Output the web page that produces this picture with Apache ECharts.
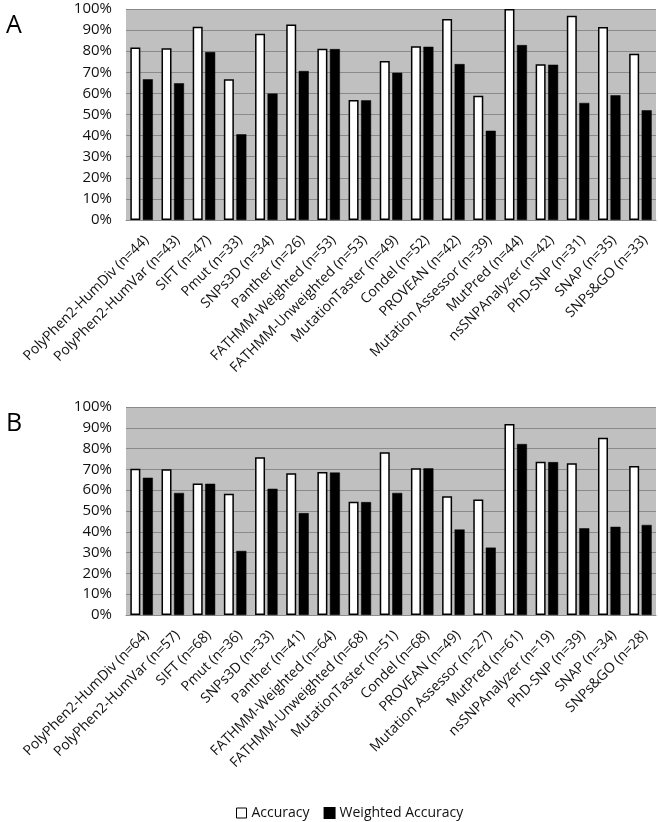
<!DOCTYPE html>
<html><head><meta charset="utf-8">
<script src="https://cdn.jsdelivr.net/npm/echarts@6/dist/echarts.min.js"></script>
<style>html,body{margin:0;padding:0;background:#fff}#c{width:658px;height:822px}</style>
</head><body><div id="c"></div>
<script>
const catsA = ["PolyPhen2-HumDiv (n=44)","PolyPhen2-HumVar (n=43)","SIFT (n=47)","Pmut (n=33)","SNPs3D (n=34)","Panther (n=26)","FATHMM-Weighted (n=53)","FATHMM-Unweighted (n=53)","MutationTaster (n=49)","Condel (n=52)","PROVEAN (n=42)","Mutation Assessor (n=39)","MutPred (n=44)","nsSNPAnalyzer (n=42)","PhD-SNP (n=31)","SNAP (n=35)","SNPs&GO (n=33)"];
const accA = [81.8,81.4,91.6,66.7,88.3,92.6,81.2,56.9,75.4,82.3,95.3,58.9,100,73.8,96.8,91.5,78.8];
const wAccA = [66.7,64.8,79.6,40.6,59.9,70.6,81.0,56.7,69.8,82.1,73.9,42.3,82.9,73.6,55.5,59.1,52.0];
const catsB = ["PolyPhen2-HumDiv (n=64)","PolyPhen2-HumVar (n=57)","SIFT (n=68)","Pmut (n=36)","SNPs3D (n=33)","Panther (n=41)","FATHMM-Weighted (n=64)","FATHMM-Unweighted (n=68)","MutationTaster (n=51)","Condel (n=68)","PROVEAN (n=49)","Mutation Assessor (n=27)","MutPred (n=61)","nsSNPAnalyzer (n=19)","PhD-SNP (n=39)","SNAP (n=34)","SNPs&GO (n=28)"];
const accB = [70.3,70.1,63.2,58.3,75.8,68.1,68.7,54.4,78.3,70.6,57.1,55.5,91.8,73.7,73.0,85.2,71.6];
const wAccB = [66.0,58.7,63.1,30.8,60.7,49.0,68.5,54.3,58.7,70.5,41.1,32.4,82.2,73.5,41.7,42.4,43.3];
const seriesNames = ["Accuracy","Weighted Accuracy"];

const FONT = "'Open Sans', 'Liberation Sans', sans-serif";
const chart = echarts.init(document.getElementById('c'), null, {renderer:'canvas'});
function xAx(cats, gi){
  return {type:'category', data:cats, gridIndex:gi,
    axisTick:{show:false},
    axisLine:{show:true, lineStyle:{color:'#8c8c8c', width:1}},
    axisLabel:{rotate:45, interval:0, margin:13, verticalAlign:'top', fontSize:14, color:'#111', fontFamily:FONT}};
}
function yAx(gi){
  return {type:'value', gridIndex:gi, min:0, max:100, interval:10,
    axisLine:{show:false}, axisTick:{show:false},
    axisLabel:{formatter:'{value}%', fontSize:15, color:'#111', fontFamily:FONT, margin:14},
    splitLine:{show:true, lineStyle:{color:'#8a8a8a', width:1}}};
}
function bars(name, data, gi, white){
  return {name:name, type:'bar', xAxisIndex:gi, yAxisIndex:gi, data:data,
    barWidth:10, barGap:'25%', barCategoryGap:'28%',
    itemStyle: white ? {color:'#ffffff', borderColor:'#000', borderWidth:1.5} : {color:'#000', borderColor:'#000', borderWidth:0.5},
    animation:false};
}
chart.setOption({
  animation:false,
  backgroundColor:'#fff',
  title:[
    {text:'A', left:1, top:8, textStyle:{fontSize:25, fontWeight:'normal', color:'#000', fontFamily:FONT}},
    {text:'B', left:1, top:406, textStyle:{fontSize:25, fontWeight:'normal', color:'#000', fontFamily:FONT}}
  ],
  grid:[
    {left:126, right:2, top:9, height:211, show:true, backgroundColor:'#c0c0c0', borderWidth:0},
    {left:126, right:2, top:407, height:208, show:true, backgroundColor:'#c0c0c0', borderWidth:0}
  ],
  legend:{data:[
      {name:seriesNames[0], itemStyle:{color:'#fff', borderColor:'#000', borderWidth:1}},
      {name:seriesNames[1], itemStyle:{color:'#000'}}],
    top:801, left:231, icon:'rect', itemWidth:10, itemHeight:10, itemGap:14,
    textStyle:{fontSize:14, color:'#111', fontFamily:FONT}},
  xAxis:[xAx(catsA,0), xAx(catsB,1)],
  yAxis:[yAx(0), yAx(1)],
  series:[
    bars(seriesNames[0], accA, 0, true),
    bars(seriesNames[1], wAccA, 0, false),
    bars(seriesNames[0], accB, 1, true),
    bars(seriesNames[1], wAccB, 1, false)
  ]
});
</script></body></html>
